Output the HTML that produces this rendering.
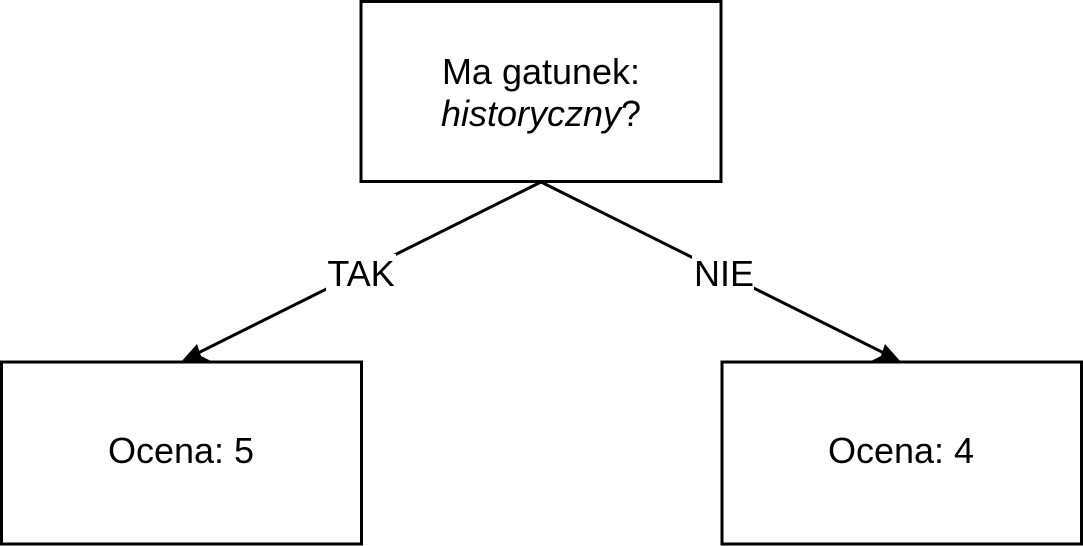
<!DOCTYPE html>
<html><head><style>
html,body{margin:0;padding:0;background:#fff;width:1083px;height:546px;overflow:hidden}
</style></head><body>
<svg width="1083" height="546" xmlns="http://www.w3.org/2000/svg" style="position:absolute;left:0;top:0">
<g fill="none" stroke="#000" stroke-width="3">
<rect x="361" y="1.5" width="360" height="180"/>
<rect x="1.5" y="362" width="360" height="182"/>
<rect x="722" y="362" width="359.5" height="182"/>
<line x1="541" y1="182" x2="192" y2="356"/>
<line x1="541" y1="182" x2="890" y2="356"/>
</g>
<polygon points="181,362 197,344 201,356 213,362" fill="#000"/>
<polygon points="901,362 885,344 881,356 869,362" fill="#000"/>
<rect x="326" y="254" width="70" height="40" fill="#fff"/>
<rect x="692" y="254" width="62" height="40" fill="#fff"/>
<g font-family="Liberation Sans, sans-serif" font-size="36" text-anchor="middle" fill="#000">
<text x="541" y="84">Ma gatunek:</text>
<text x="541" y="126"><tspan font-style="italic">historyczny</tspan>?</text>
<text x="181" y="463">Ocena: 5</text>
<text x="901" y="463">Ocena: 4</text>
<text x="361" y="286">TAK</text>
<text x="724" y="286">NIE</text>
</g>
</svg>
</body></html>
